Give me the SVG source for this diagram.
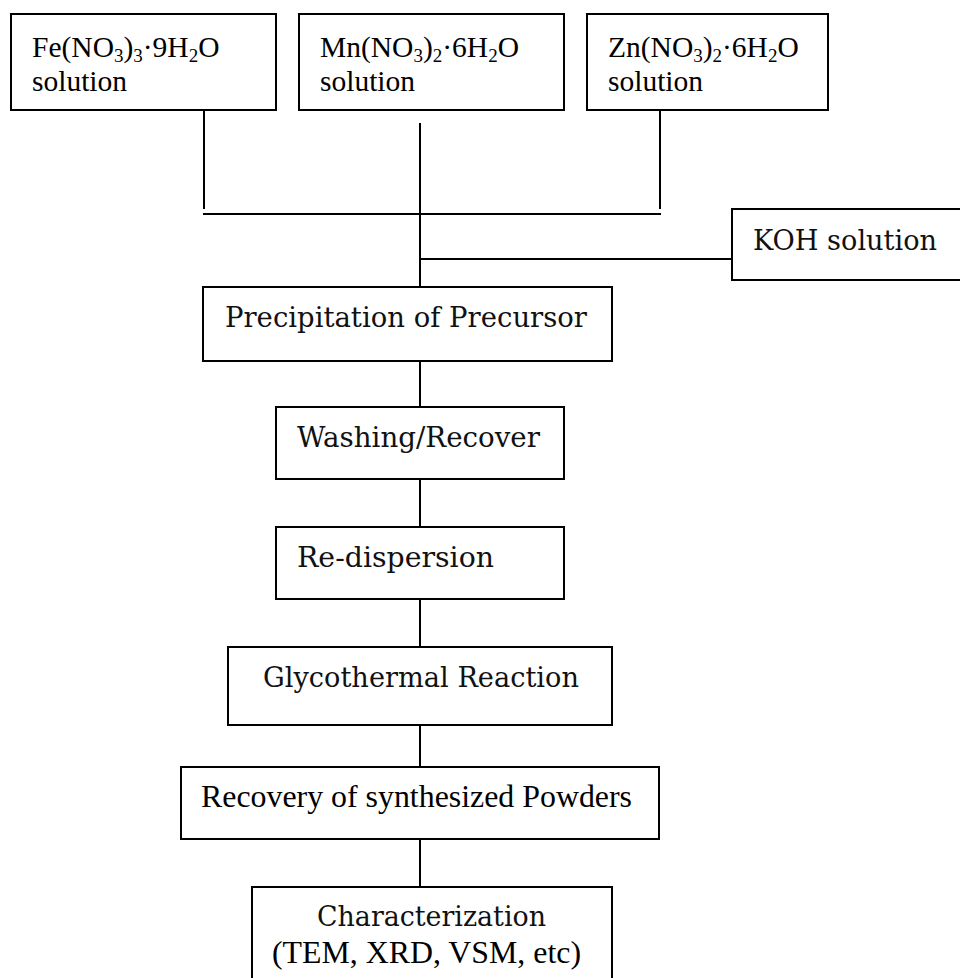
<svg xmlns="http://www.w3.org/2000/svg" width="960" height="978" viewBox="0 0 960 978">
<style>
.box{fill:#fff;stroke:#000;stroke-width:2}
.conn{stroke:#000;stroke-width:2;fill:none}
.tm{font-family:"Liberation Serif","Times New Roman",serif;font-size:29.5px;fill:#000}
.tl{font-family:"Liberation Serif","Times New Roman",serif;font-size:31.5px;fill:#000}
.bt{font-family:"DejaVu Serif","Liberation Serif",serif;font-size:27px;fill:#111}
.sub{font-size:19px}
</style>
<rect x="0" y="0" width="960" height="978" fill="#fff"/>
<g id="connectors">
<path class="conn" d="M204,111 V209"/>
<path class="conn" d="M203,214 H661"/>
<path class="conn" d="M660,111 V209"/>
<path class="conn" d="M420,123 V287"/>
<path class="conn" d="M420,259 H732"/>
<path class="conn" d="M420,358 V407"/>
<path class="conn" d="M420,479 V527"/>
<path class="conn" d="M420,599 V647"/>
<path class="conn" d="M420,718 V767"/>
<path class="conn" d="M420,839 V887"/>
</g>
<g id="fe">
<rect class="box" x="11" y="14" width="265" height="96"/>
<text class="tm" x="32" y="57">Fe(NO<tspan class="sub" dy="5">3</tspan><tspan dy="-5">)</tspan><tspan class="sub" dy="5">3</tspan><tspan dy="-5">·9H</tspan><tspan class="sub" dy="5">2</tspan><tspan dy="-5">O</tspan></text>
<text class="tm" x="32" y="91">solution</text>
</g>
<g id="mn">
<rect class="box" x="299" y="14" width="265" height="96"/>
<text class="tm" x="320" y="57">Mn(NO<tspan class="sub" dy="5">3</tspan><tspan dy="-5">)</tspan><tspan class="sub" dy="5">2</tspan><tspan dy="-5">·6H</tspan><tspan class="sub" dy="5">2</tspan><tspan dy="-5">O</tspan></text>
<text class="tm" x="320" y="91">solution</text>
</g>
<g id="zn">
<rect class="box" x="587" y="14" width="241" height="96"/>
<text class="tm" x="608" y="57">Zn(NO<tspan class="sub" dy="5">3</tspan><tspan dy="-5">)</tspan><tspan class="sub" dy="5">2</tspan><tspan dy="-5">·6H</tspan><tspan class="sub" dy="5">2</tspan><tspan dy="-5">O</tspan></text>
<text class="tm" x="608" y="91">solution</text>
</g>
<g id="koh">
<rect class="box" x="732" y="209" width="232" height="71"/>
<text class="bt" x="753" y="250" textLength="184" lengthAdjust="spacingAndGlyphs">KOH solution</text>
</g>
<g id="precipitation">
<rect class="box" x="203" y="287" width="409" height="74"/>
<text class="bt" x="225" y="327" textLength="362" lengthAdjust="spacingAndGlyphs">Precipitation of Precursor</text>
</g>
<g id="washing">
<rect class="box" x="276" y="407" width="288" height="72"/>
<text class="bt" x="297" y="447" textLength="243" lengthAdjust="spacingAndGlyphs">Washing/Recover</text>
</g>
<g id="redispersion">
<rect class="box" x="276" y="527" width="288" height="72"/>
<text class="bt" x="297" y="567" textLength="197" lengthAdjust="spacingAndGlyphs">Re-dispersion</text>
</g>
<g id="glycothermal">
<rect class="box" x="228" y="647" width="384" height="78"/>
<text class="bt" x="263" y="687" textLength="316" lengthAdjust="spacingAndGlyphs">Glycothermal Reaction</text>
</g>
<g id="recovery">
<rect class="box" x="181" y="767" width="478" height="72"/>
<text class="tl" x="201" y="807" textLength="431" lengthAdjust="spacingAndGlyphs">Recovery of synthesized Powders</text>
</g>
<g id="characterization">
<rect class="box" x="252" y="887" width="360" height="110"/>
<text class="bt" x="317" y="926" textLength="229" lengthAdjust="spacingAndGlyphs">Characterization</text>
<text class="tl" x="272" y="963" textLength="309" lengthAdjust="spacingAndGlyphs">(TEM, XRD, VSM, etc)</text>
</g>
</svg>
